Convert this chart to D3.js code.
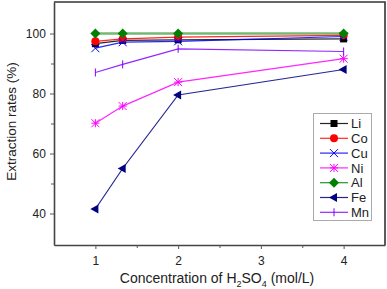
<!DOCTYPE html>
<html>
<head>
<meta charset="utf-8">
<script src="https://cdn.jsdelivr.net/npm/d3@7"></script>
<style>
  html, body { margin: 0; padding: 0; background: #fff; }
  svg { display: block; font-family: "Liberation Sans", Arial, sans-serif; }
</style>
</head>
<body>
<svg id="chart" width="387" height="289"></svg>
<script>
// Konzentration H2SO4 (mol/L)
const concentrations = [1, 1.33, 2, 4];

// Extraktionsraten (%) je Metall
const liRates = [96.6, 97.7, 97.9, 98.2];
const coRates = [97.4, 98.2, 98.8, 99.4];
const cuRates = [95.1, 97.1, 97.4, 99.0];
const niRates = [70.1, 75.8, 83.8, 91.6];
const alRates = [100, 100, 100, 100];
const feRates = [41.5, 55.0, 79.5, 88.0];
const mnRates = [87.0, 89.7, 94.9, 94.0];

const xTicks = [1, 2, 3, 4];
const yTicks = [40, 60, 80, 100];

const series = [
  { name: "Li", values: liRates, color: "#000000", marker: "square" },
  { name: "Co", values: coRates, color: "#ff0000", marker: "circle" },
  { name: "Cu", values: cuRates, color: "#0000ff", marker: "cross" },
  { name: "Ni", values: niRates, color: "#ff00ff", marker: "star" },
  { name: "Al", values: alRates, color: "#008000", marker: "diamond" },
  { name: "Fe", values: feRates, color: "#000080", marker: "triLeft" },
  { name: "Mn", values: mnRates, color: "#8000ff", marker: "vbar" }
];

const svg = d3.select("#chart");

// Plotbereich
const pLeft = 54, pRight = 385, pTop = 2, pBottom = 245;

const x = d3.scaleLinear().domain([0.5, 4.5]).range([pLeft, pRight]);
const y = d3.scaleLinear().domain([29.5, 110.5]).range([pBottom, pTop]);

// Rahmen (oben + rechts)
svg.append("path")
  .attr("d", `M${pLeft},${pTop}H${pRight}V${pBottom}`)
  .attr("fill", "none")
  .attr("stroke", "#333")
  .attr("stroke-width", 1.6);

// Achsen
const xAxis = svg.append("g")
  .attr("transform", `translate(0,${pBottom})`)
  .call(d3.axisBottom(x).tickValues(xTicks).tickSize(4).tickSizeOuter(0).tickFormat(d3.format("d")));
svg.append("g")
  .attr("transform", `translate(0,${pBottom})`)
  .call(d3.axisBottom(x).tickValues([1.5, 2.5, 3.5]).tickSize(3).tickSizeOuter(0).tickFormat(""))
  .select(".domain").remove();

const yAxis = svg.append("g")
  .attr("transform", `translate(${pLeft},0)`)
  .call(d3.axisLeft(y).tickValues(yTicks).tickSize(4).tickSizeOuter(0));
svg.append("g")
  .attr("transform", `translate(${pLeft},0)`)
  .call(d3.axisLeft(y).tickValues([50, 70, 90]).tickSize(3).tickSizeOuter(0).tickFormat(""))
  .select(".domain").remove();

svg.selectAll(".domain").attr("stroke", "#444").attr("stroke-width", 1.6);
svg.selectAll(".tick line").attr("stroke", "#555");
svg.selectAll(".tick text")
  .attr("font-family", "Liberation Sans, Arial, sans-serif")
  .attr("font-size", 12)
  .attr("fill", "#222");
xAxis.selectAll(".tick text").attr("dy", "1.05em");
yAxis.selectAll(".tick text").attr("dx", "-0.1em");

// Achsentitel
svg.append("text")
  .attr("transform", "rotate(-90)")
  .attr("x", -(pTop + pBottom) / 2 + 2)
  .attr("y", 16)
  .attr("text-anchor", "middle")
  .attr("font-size", 13.5)
  .attr("fill", "#222")
  .text("Extraction rates (%)");

const xLabel = svg.append("text")
  .attr("x", 217)
  .attr("y", 283)
  .attr("text-anchor", "middle")
  .attr("font-size", 14)
  .attr("fill", "#222");
xLabel.append("tspan").text("Concentration of H");
xLabel.append("tspan").attr("font-size", 9).attr("dy", 4).text("2");
xLabel.append("tspan").attr("dy", -4).text("SO");
xLabel.append("tspan").attr("font-size", 9).attr("dy", 4).text("4");
xLabel.append("tspan").attr("dy", -4).text(" (mol/L)");

// Marker
function drawMarker(g, type, color, cx, cy) {
  switch (type) {
    case "square":
      g.append("rect").attr("x", cx - 3.5).attr("y", cy - 3.5).attr("width", 7).attr("height", 7).attr("fill", color);
      break;
    case "circle":
      g.append("circle").attr("cx", cx).attr("cy", cy).attr("r", 4).attr("fill", color);
      break;
    case "cross":
      g.append("path").attr("d", `M${cx - 4},${cy - 4}L${cx + 4},${cy + 4}M${cx - 4},${cy + 4}L${cx + 4},${cy - 4}`)
        .attr("stroke", color).attr("stroke-width", 1);
      break;
    case "star":
      g.append("path").attr("d", `M${cx - 4},${cy - 4}L${cx + 4},${cy + 4}M${cx - 4},${cy + 4}L${cx + 4},${cy - 4}M${cx},${cy - 4}V${cy + 4}M${cx - 4},${cy}H${cx + 4}`)
        .attr("stroke", color).attr("stroke-width", 1);
      break;
    case "diamond":
      g.append("path").attr("d", `M${cx},${cy - 5}L${cx + 5},${cy}L${cx},${cy + 5}L${cx - 5},${cy}Z`).attr("fill", color);
      break;
    case "triLeft":
      g.append("path").attr("d", `M${cx - 5},${cy}L${cx + 3},${cy - 4.5}L${cx + 3},${cy + 4.5}Z`).attr("fill", color);
      break;
    case "vbar":
      g.append("path").attr("d", `M${cx},${cy - 4}V${cy + 4}`).attr("stroke", color).attr("stroke-width", 1);
      break;
  }
}

const line = d3.line().x(d => x(d[0])).y(d => y(d[1]));

series.forEach(s => {
  const pts = concentrations.map((c, i) => [c, s.values[i]]);
  const g = svg.append("g");
  g.append("path")
    .attr("d", line(pts))
    .attr("fill", "none")
    .attr("stroke", s.color)
    .attr("stroke-opacity", s.name === "Al" ? 0.55 : 0.85)
    .attr("stroke-width", s.name === "Al" ? 2.5 : 1.2);
  pts.forEach(p => drawMarker(g, s.marker, s.color, x(p[0]), y(p[1])));
});

// Legende
const legend = svg.append("g");
legend.append("rect")
  .attr("x", 313.5).attr("y", 113.5)
  .attr("width", 58).attr("height", 107)
  .attr("fill", "#fff")
  .attr("stroke", "#aaa");

series.forEach((s, i) => {
  const ly = 123.5 + i * 14.8;
  legend.append("line")
    .attr("x1", 320).attr("x2", 348)
    .attr("y1", ly).attr("y2", ly)
    .attr("stroke", s.color)
    .attr("stroke-opacity", 0.85)
    .attr("stroke-width", 1.2);
  drawMarker(legend, s.marker, s.color, 334, ly);
  legend.append("text")
    .attr("x", 351).attr("y", ly)
    .attr("dy", "0.36em")
    .attr("font-size", 13)
    .attr("fill", "#222")
    .text(s.name);
});
</script>
</body>
</html>
